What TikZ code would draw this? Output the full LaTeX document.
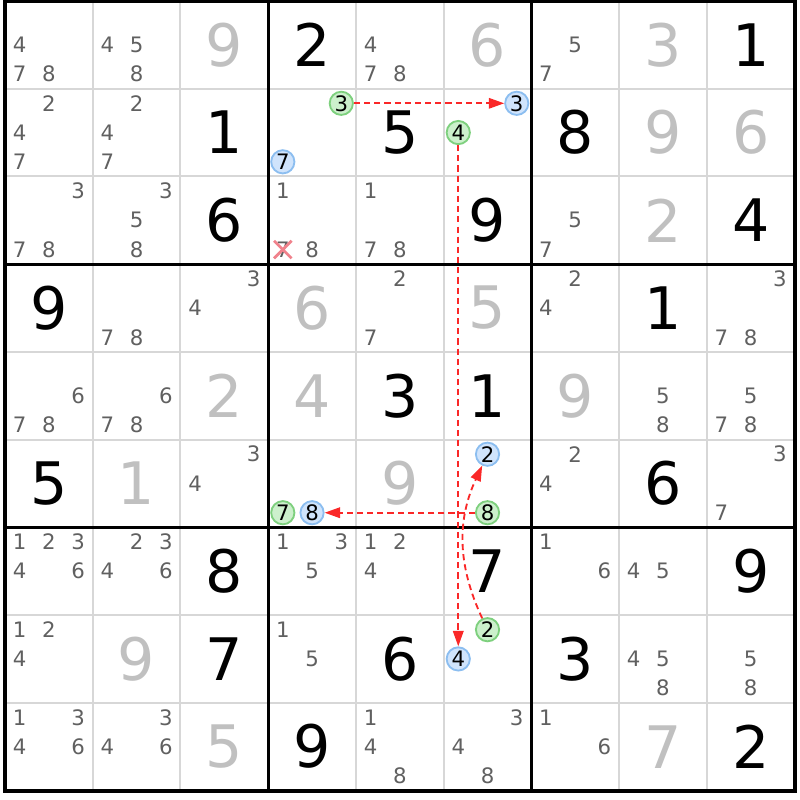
\documentclass[tikz,border=0pt]{standalone}
\usepackage{fontspec}
\setmainfont{DejaVu Sans}
\usetikzlibrary{calc}
\usetikzlibrary{arrows.meta}

\definecolor{pencilgrey}{RGB}{96,96,96}
\definecolor{solvedgrey}{RGB}{192,192,192}
\definecolor{gridgrey}{RGB}{215,215,215}
\definecolor{ongreen}{RGB}{204,240,204}
\definecolor{ongreenline}{RGB}{126,208,126}
\definecolor{offblue}{RGB}{208,228,252}
\definecolor{offblueline}{RGB}{140,190,240}
\definecolor{linkred}{RGB}{250,40,40}
\definecolor{strikered}{RGB}{240,130,140}

\begin{document}
\begin{tikzpicture}[
    x=1cm, y=-1cm,
    bigdigit/.style={inner sep=0pt, font=\fontsize{19}{19}\selectfont},
    pencil/.style={inner sep=0pt, text=pencilgrey, font=\fontsize{6.9}{7}\selectfont},
    oncircle/.style={pencil, circle, text=black, draw=ongreenline, fill=ongreen, line width=0.6pt, minimum size=0.265cm},
    offcircle/.style={pencil, circle, text=black, draw=offblueline, fill=offblue, line width=0.6pt, minimum size=0.265cm},
    linkarrow/.style={color=linkred, line width=0.6pt, dash pattern=on 2pt off 1.3pt, -{Triangle[length=5pt,width=3.4pt]}},
  ]

  \useasboundingbox (-0.057,-0.011) rectangle (9.057,9.108);

  \foreach \i in {1,2,4,5,7,8} {
    \draw [gridgrey, line width=0.65pt] (\i,0) -- (\i,9);
    \draw [gridgrey, line width=0.65pt] (0,\i) -- (9,\i);
  }
  \foreach \i in {3,6} {
    \draw [line width=0.9pt] (\i,0) -- (\i,9);
    \draw [line width=0.9pt] (0,\i) -- (9,\i);
  }
  \draw [line width=1.3pt] (0,0) rectangle (9,9);

  \foreach \r/\c/\d/\col in {1/3/9/solvedgrey, 1/4/2/black, 1/6/6/solvedgrey, 1/8/3/solvedgrey, 1/9/1/black,
      2/3/1/black, 2/5/5/black, 2/7/8/black, 2/8/9/solvedgrey, 2/9/6/solvedgrey,
      3/3/6/black, 3/6/9/black, 3/8/2/solvedgrey, 3/9/4/black,
      4/1/9/black, 4/4/6/solvedgrey, 4/6/5/solvedgrey, 4/8/1/black,
      5/3/2/solvedgrey, 5/4/4/solvedgrey, 5/5/3/black, 5/6/1/black, 5/7/9/solvedgrey,
      6/1/5/black, 6/2/1/solvedgrey, 6/5/9/solvedgrey, 6/8/6/black,
      7/3/8/black, 7/6/7/black, 7/9/9/black,
      8/2/9/solvedgrey, 8/3/7/black, 8/5/6/black, 8/7/3/black,
      9/3/5/solvedgrey, 9/4/9/black, 9/8/7/solvedgrey, 9/9/2/black} {
    \node [bigdigit, text=\col] (D\r\c) at (\c-0.5,\r-0.5) {\d};
  }

  \foreach \r/\c/\ds in {1/1/{4,7,8}, 1/2/{4,5,8}, 1/5/{4,7,8}, 1/7/{5,7},
      2/1/{2,4,7}, 2/2/{2,4,7},
      3/1/{3,7,8}, 3/2/{3,5,8}, 3/4/{1,7,8}, 3/5/{1,7,8}, 3/7/{5,7},
      4/2/{7,8}, 4/3/{3,4}, 4/5/{2,7}, 4/7/{2,4}, 4/9/{3,7,8},
      5/1/{6,7,8}, 5/2/{6,7,8}, 5/8/{5,8}, 5/9/{5,7,8},
      6/3/{3,4}, 6/7/{2,4}, 6/9/{3,7},
      7/1/{1,2,3,4,6}, 7/2/{2,3,4,6}, 7/4/{1,3,5}, 7/5/{1,2,4}, 7/7/{1,6}, 7/8/{4,5},
      8/1/{1,2,4}, 8/4/{1,5}, 8/8/{4,5,8}, 8/9/{5,8},
      9/1/{1,3,4,6}, 9/2/{3,4,6}, 9/5/{1,4,8}, 9/6/{3,4,8}, 9/7/{1,6}} {
    \foreach \d in \ds {
      \node [pencil] (C\r\c\d) at ({\c-1+(mod(\d-1,3)+0.5)/3},{\r-1+(int((\d-1)/3)+0.5)/3}) {\d};
    }
  }

  \draw [strikered, line width=0.9pt] ($(C347)+(-0.1,-0.1)$) -- ($(C347)+(0.1,0.1)$);
  \draw [strikered, line width=0.9pt] ($(C347)+(0.1,-0.1)$) -- ($(C347)+(-0.1,0.1)$);

  \foreach \r/\c/\d/\s in {2/4/3/oncircle, 2/4/7/offcircle, 2/6/3/offcircle, 2/6/4/oncircle,
      6/4/7/oncircle, 6/4/8/offcircle, 6/6/2/offcircle, 6/6/8/oncircle,
      8/6/2/oncircle, 8/6/4/offcircle} {
    \node [\s] (C\r\c\d) at ({\c-1+(mod(\d-1,3)+0.5)/3},{\r-1+(int((\d-1)/3)+0.5)/3}) {\d};
  }

  \draw [linkarrow] (C243) -- (C263);
  \draw [linkarrow] (C264) -- (C864);
  \draw [linkarrow] (C668) -- (C648);
  \draw [linkarrow] (C862) to [bend left=25] (C662);

\end{tikzpicture}
\end{document}
